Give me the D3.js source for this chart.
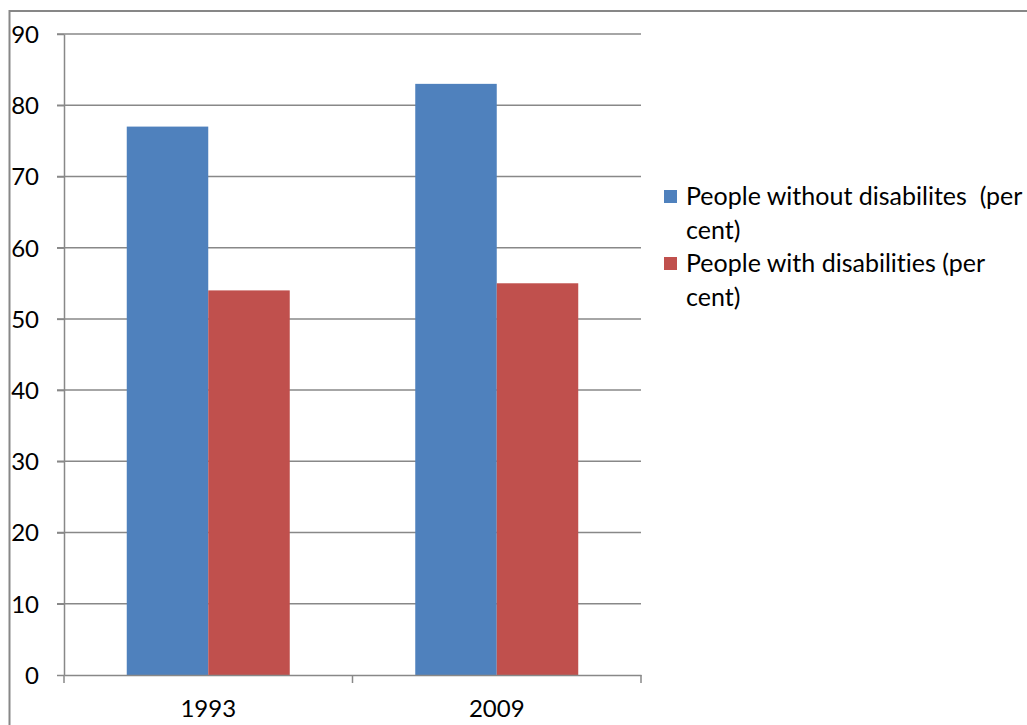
<!DOCTYPE html>
<html>
<head>
<meta charset="utf-8">
<script src="https://cdn.jsdelivr.net/npm/d3@7"></script>
<style>
  body { margin: 0; background: #fff; }
  svg text { font-family: Lato, "Open Sans", sans-serif; fill: #000; font-variant-ligatures: none; }
</style>
</head>
<body>
<div id="chart"></div>
<script>
const years = ['1993', '2009'];
const seriesNames = ['People without disabilites  (per cent)', 'People with disabilities (per cent)'];
const withoutDisab = [77, 83];
const withDisab = [54, 55];
const yTicks = [0, 10, 20, 30, 40, 50, 60, 70, 80, 90];
const colors = ['#4f81bd', '#c0504d'];

const width = 1027, height = 725;
const plot = { left: 64, right: 641, top: 34, bottom: 675 };

const svg = d3.select('#chart').append('svg')
  .attr('width', width).attr('height', height)
  .attr('viewBox', `0 0 ${width} ${height}`);

// chart border
svg.append('rect')
  .attr('x', 9.5).attr('y', 11).attr('width', 1040).attr('height', 740)
  .attr('fill', 'none').attr('stroke', '#878787').attr('stroke-width', 2);

const x0 = d3.scaleBand().domain(years).range([plot.left, plot.right]).paddingInner(0).paddingOuter(0);
const x1 = d3.scaleBand().domain([0, 1]).range([0, x0.bandwidth()]).paddingOuter(0.77).paddingInner(0);
const y = d3.scaleLinear().domain([0, 90]).range([plot.bottom, plot.top]);

// gridlines
svg.append('g').selectAll('line').data(yTicks.filter(d => d > 0)).join('line')
  .attr('x1', plot.left - 7).attr('x2', plot.right)
  .attr('y1', d => y(d)).attr('y2', d => y(d))
  .attr('stroke', '#888').attr('stroke-width', 1.5);

// bars
const rows = years.map((yr, i) => ({ year: yr, vals: [withoutDisab[i], withDisab[i]] }));
svg.append('g').selectAll('g').data(rows).join('g')
  .attr('transform', d => `translate(${x0(d.year)},0)`)
  .selectAll('rect').data(d => d.vals.map((v, k) => ({ v, k }))).join('rect')
  .attr('x', d => x1(d.k)).attr('width', x1.bandwidth())
  .attr('y', d => y(d.v)).attr('height', d => y(0) - y(d.v))
  .attr('fill', d => colors[d.k]);

// y axis
const yAxis = svg.append('g').attr('transform', `translate(${plot.left},0)`)
  .call(d3.axisLeft(y).tickValues(yTicks).tickSize(7).tickSizeOuter(0).tickPadding(18));
yAxis.select('.domain').attr('stroke', '#888').attr('stroke-width', 1.5);
yAxis.selectAll('line').attr('stroke', '#888').attr('stroke-width', 1.5);
yAxis.selectAll('text').attr('font-size', 24).attr('font-family', 'Lato, sans-serif').attr('dy', '0.35em');

// x axis
const xAxis = svg.append('g').attr('transform', `translate(0,${plot.bottom})`)
  .call(d3.axisBottom(x0).tickSize(0).tickPadding(25));
xAxis.select('.domain').attr('stroke', '#888').attr('stroke-width', 1.5);
xAxis.selectAll('text').attr('font-size', 24).attr('font-family', 'Lato, sans-serif');
// category boundary ticks
svg.append('g').selectAll('line').data([plot.left, (plot.left + plot.right) / 2, plot.right]).join('line')
  .attr('x1', d => d).attr('x2', d => d)
  .attr('y1', plot.bottom).attr('y2', plot.bottom + 8)
  .attr('stroke', '#888').attr('stroke-width', 1.5);

// legend
const legendLines = [
  ['People without disabilites  (per', 'cent)'],
  ['People with disabilities (per', 'cent)']
];
const legend = svg.append('g').attr('transform', 'translate(664,0)');
legendLines.forEach((lines, i) => {
  const top = 190 + i * 67;
  legend.append('rect').attr('x', 0).attr('y', top).attr('width', 13).attr('height', 13)
    .attr('fill', colors[i]);
  legend.append('text').attr('x', 22).attr('y', top + 6).attr('font-size', 25)
    .attr('xml:space', 'preserve')
    .selectAll('tspan').data(lines).join('tspan')
    .attr('x', 22).attr('dy', (d, j) => j === 0 ? '0.35em' : 34)
    .text(d => d);
});
</script>
</body>
</html>
